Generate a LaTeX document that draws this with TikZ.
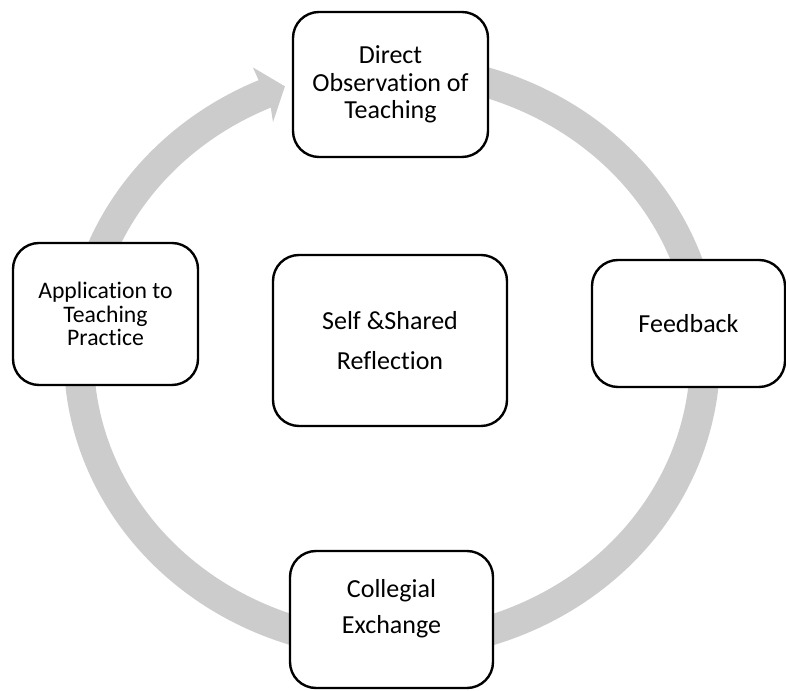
\documentclass[tikz,border=0pt]{standalone}
\usepackage{fontspec}
\setmainfont{Carlito}[RawFeature={-liga;-clig;-dlig;-calt}]
% keep "t" and "i" as separate glyphs
\newcommand\tisep{t\kern0pt i}
\begin{document}
\begin{tikzpicture}[x=1pt,y=1pt,
  stagebox/.style={draw=black, line width=2.4pt, rounded corners=26pt,
    fill=white, align=center, inner sep=0pt},
  stagetext/.style={align=center, inner sep=0pt}]
\definecolor{ringgray}{RGB}{204,204,204}
\useasboundingbox (0,0) rectangle (786,690);
% centre of the elliptical cycle arrow
\coordinate (c) at (392,333);
% outer / inner edges of the arrow head
\coordinate (barbout) at ([shift={(114:342 and 317)}]c);
\coordinate (tip) at ([shift={(110:313 and 288)}]c);
\coordinate (barbin) at ([shift={(114:292.6 and 257)}]c);
% the cycle arrow, running clockwise round the stages
\fill[ringgray]
  ([shift={(75:328 and 303)}]c)
    arc[start angle=75, end angle=-246, x radius=328, y radius=303]
  -- (barbout) -- (tip) -- (barbin)
  -- ([shift={(114:298 and 273)}]c)
    arc[start angle=-246, end angle=75, x radius=298, y radius=273]
  -- cycle;
% stages
\node[stagebox, minimum width=195pt, minimum height=145pt,
  font=\fontsize{26}{27.5}\selectfont] (obs) at (390.5,605.5)
  {Direct\\Observa\tisep on of\\Teaching};
\node[stagebox, minimum width=193pt, minimum height=127pt,
  font=\fontsize{26}{30}\selectfont] (feed) at (688.5,366.5) {Feedback};
\node[stagebox, minimum width=203pt, minimum height=137pt] (exch) at (391.5,70.5) {};
\node[stagetext, font=\fontsize{26}{35.7}\selectfont] (exchtxt)
  at ([yshift=11pt]exch.center) {Collegial\\Exchange};
\node[stagebox, minimum width=185pt, minimum height=142pt,
  font=\fontsize{23.7}{23.3}\selectfont] (appl) at (105.5,376)
  {Applica\tisep on to\\Teaching\\Prac\tisep ce};
\node[stagebox, minimum width=234pt, minimum height=171pt,
  font=\fontsize{26}{40}\selectfont] (refl) at (390,349.5)
  {Self \&Shared\\Reflec\tisep on};
\end{tikzpicture}
\end{document}
